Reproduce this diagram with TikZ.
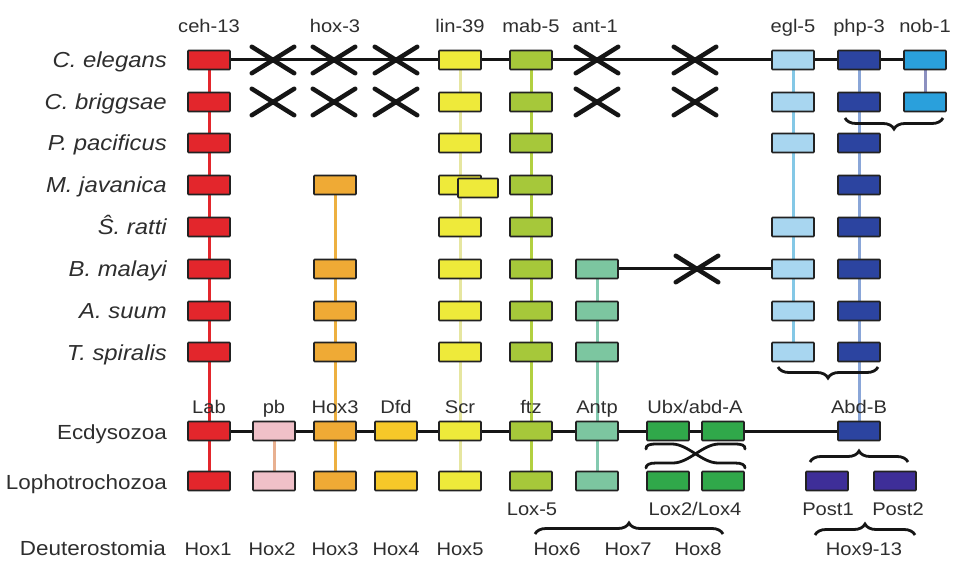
\documentclass[tikz,border=0pt]{standalone}
\usepackage{fontspec}
\setmainfont{Liberation Sans}[FakeStretch=1.1]
\usetikzlibrary{shapes.misc,decorations.pathreplacing}
\pgfdeclarelayer{back}
\pgfdeclarelayer{bg}
\pgfsetlayers{back,bg,main}
\definecolor{cRed}{HTML}{E3262C}
\definecolor{cPink}{HTML}{F0C0C8}
\definecolor{cOra}{HTML}{EFAA35}
\definecolor{cDfd}{HTML}{F6C829}
\definecolor{cYel}{HTML}{EEEA3A}
\definecolor{cFtz}{HTML}{A6C83A}
\definecolor{cAnt}{HTML}{7CC6A0}
\definecolor{cUbx}{HTML}{30A84A}
\definecolor{cEgl}{HTML}{A8D6F0}
\definecolor{cPhp}{HTML}{2C44A0}
\definecolor{cNob}{HTML}{2AA0DC}
\definecolor{cPost}{HTML}{3E2E98}
\definecolor{lPb}{HTML}{E8B090}
\definecolor{lYel}{HTML}{E6E6A0}
\definecolor{lOra}{HTML}{EDB040}
\definecolor{lFtz}{HTML}{B2D040}
\definecolor{lAnt}{HTML}{84CAB0}
\definecolor{lEgl}{HTML}{84C8E6}
\definecolor{lPhp}{HTML}{8AA6D8}
\definecolor{lNob}{HTML}{8C90C0}
\definecolor{boxline}{HTML}{222222}
\definecolor{txt}{HTML}{2E2E2E}
\definecolor{inkc}{HTML}{151515}
\tikzset{
 gbox/.style={draw=boxline, line width=1.6pt, fill=#1, minimum width=42pt, minimum height=19pt, inner sep=0pt, rounded corners=0.8pt},
 xmark/.style={cross out, draw=inkc, line width=4.5pt, line cap=round, minimum width=38pt, minimum height=22pt, inner sep=0pt},
 hline/.style={draw=inkc, line width=3pt},
 vline/.style={draw=#1, line width=3pt},
 sp/.style={anchor=base east, font=\fontsize{21.7}{24}\selectfont\itshape, text=txt, inner sep=0pt},
 grp/.style={anchor=base east, font=\fontsize{20.4}{24}\selectfont, text=txt, inner sep=0pt},
 gl/.style={anchor=base, font=\fontsize{18.3}{22}\selectfont, text=txt, inner sep=0pt},
 brc/.style={decorate, decoration={brace, amplitude=11pt}, line width=2.8pt, draw=inkc},
 xbrc/.style={line width=2.8pt, draw=inkc, line cap=round},
}
\begin{document}
\begin{tikzpicture}[x=1pt,y=-1pt]
\begin{pgfonlayer}{back}
\fill[white] (0,0) rectangle (954,572);
\end{pgfonlayer}
\useasboundingbox (0,0) rectangle (954,572);
% ---------- top gene labels
\node[gl] (tceh) at (209,33) {ceh-13};
\node[gl] (thox) at (335,33) {hox-3};
\node[gl] (tlin) at (460,33) {lin-39};
\node[gl] (tmab) at (531,33) {mab-5};
\node[gl] (tant) at (595,33) {ant-1};
\node[gl] (tegl) at (793,33) {egl-5};
\node[gl] (tphp) at (859,33) {php-3};
\node[gl] (tnob) at (925,33) {nob-1};
% ---------- species labels
\node[sp] (s1) at (167,68) {C. elegans};
\node[sp] (s2) at (167,110) {C. briggsae};
\node[sp] (s3) at (167,151) {P. pacificus};
\node[sp] (s4) at (167,193) {M. javanica};
\node[sp] (s5) at (167,235) {Ŝ. ratti};
\node[sp] (s6) at (167,277) {B. malayi};
\node[sp] (s7) at (167,319) {A. suum};
\node[sp] (s8) at (167,360) {T. spiralis};
% ---------- row 1 C. elegans
\node[gbox=cRed] (r1a) at (209,60) {};
\node[gbox=cYel] (r1e) at (460,60) {};
\node[gbox=cFtz] (r1f) at (531,60) {};
\node[gbox=cEgl] (r1h) at (793,60) {};
\node[gbox=cPhp] (r1i) at (859,60) {};
\node[gbox=cNob] (r1j) at (925,60) {};
\node[xmark] (r1xb) at (273,60) {};
\node[xmark] (r1xc) at (334,60) {};
\node[xmark] (r1xd) at (396,60) {};
\node[xmark] (r1xg) at (597,60) {};
\node[xmark] (r1xu) at (695,60) {};
% ---------- row 2 C. briggsae
\node[gbox=cRed] (r2a) at (209,102) {};
\node[gbox=cYel] (r2e) at (460,102) {};
\node[gbox=cFtz] (r2f) at (531,102) {};
\node[gbox=cEgl] (r2h) at (793,102) {};
\node[gbox=cPhp] (r2i) at (859,102) {};
\node[gbox=cNob] (r2j) at (925,102) {};
\node[xmark] (r2xb) at (273,102) {};
\node[xmark] (r2xc) at (334,102) {};
\node[xmark] (r2xd) at (396,102) {};
\node[xmark] (r2xg) at (597,102) {};
\node[xmark] (r2xu) at (695,102) {};
% ---------- row 3 P. pacificus
\node[gbox=cRed] (r3a) at (209,143) {};
\node[gbox=cYel] (r3e) at (460,143) {};
\node[gbox=cFtz] (r3f) at (531,143) {};
\node[gbox=cEgl] (r3h) at (793,143) {};
\node[gbox=cPhp] (r3i) at (859,143) {};
% ---------- row 4 M. javanica
\node[gbox=cRed] (r4a) at (209,185) {};
\node[gbox=cOra] (r4c) at (335,185) {};
\node[gbox=cYel] (r4e) at (460,185) {};
\node[gbox=cYel, minimum width=40pt] (r4e2) at (478,188) {};
\node[gbox=cFtz] (r4f) at (531,185) {};
\node[gbox=cPhp] (r4i) at (859,185) {};
% ---------- row 5 S. ratti
\node[gbox=cRed] (r5a) at (209,227) {};
\node[gbox=cYel] (r5e) at (460,227) {};
\node[gbox=cFtz] (r5f) at (531,227) {};
\node[gbox=cEgl] (r5h) at (793,227) {};
\node[gbox=cPhp] (r5i) at (859,227) {};
% ---------- row 6 B. malayi
\node[gbox=cRed] (r6a) at (209,269) {};
\node[gbox=cOra] (r6c) at (335,269) {};
\node[gbox=cYel] (r6e) at (460,269) {};
\node[gbox=cFtz] (r6f) at (531,269) {};
\node[gbox=cAnt] (r6g) at (597,269) {};
\node[gbox=cEgl] (r6h) at (793,269) {};
\node[gbox=cPhp] (r6i) at (859,269) {};
\node[xmark] (r6xu) at (697,269) {};
% ---------- row 7 A. suum
\node[gbox=cRed] (r7a) at (209,311) {};
\node[gbox=cOra] (r7c) at (335,311) {};
\node[gbox=cYel] (r7e) at (460,311) {};
\node[gbox=cFtz] (r7f) at (531,311) {};
\node[gbox=cAnt] (r7g) at (597,311) {};
\node[gbox=cEgl] (r7h) at (793,311) {};
\node[gbox=cPhp] (r7i) at (859,311) {};
% ---------- row 8 T. spiralis
\node[gbox=cRed] (r8a) at (209,352) {};
\node[gbox=cOra] (r8c) at (335,352) {};
\node[gbox=cYel] (r8e) at (460,352) {};
\node[gbox=cFtz] (r8f) at (531,352) {};
\node[gbox=cAnt] (r8g) at (597,352) {};
\node[gbox=cEgl] (r8h) at (793,352) {};
\node[gbox=cPhp] (r8i) at (859,352) {};
% ---------- Ecdysozoa
\node[gl] (lLab) at (209,413) {Lab};
\node[gl] (lpb) at (274,413) {pb};
\node[gl] (lHox3) at (335,413) {Hox3};
\node[gl] (lDfd) at (396,413) {Dfd};
\node[gl] (lScr) at (460,413) {Scr};
\node[gl] (lftz) at (531,413) {ftz};
\node[gl] (lAntp) at (597,413) {Antp};
\node[gl] (lUbx) at (695,413) {Ubx/abd-A};
\node[gl] (lAbdB) at (859,413) {Abd-B};
\node[grp] (gEcd) at (167,439) {Ecdysozoa};
\node[gbox=cRed] (ea) at (209,431) {};
\node[gbox=cPink] (eb) at (274,431) {};
\node[gbox=cOra] (ec) at (335,431) {};
\node[gbox=cDfd] (ed) at (396,431) {};
\node[gbox=cYel] (ee) at (460,431) {};
\node[gbox=cFtz] (ef) at (531,431) {};
\node[gbox=cAnt] (eg) at (597,431) {};
\node[gbox=cUbx] (eu1) at (668,431) {};
\node[gbox=cUbx] (eu2) at (723,431) {};
\node[gbox=cPhp] (ei) at (859,431) {};
% ---------- Lophotrochozoa
\node[grp] (gLop) at (167,489) {Lophotrochozoa};
\node[gbox=cRed] (la) at (209,481) {};
\node[gbox=cPink] (lb) at (274,481) {};
\node[gbox=cOra] (lc) at (335,481) {};
\node[gbox=cDfd] (ld) at (396,481) {};
\node[gbox=cYel] (le) at (460,481) {};
\node[gbox=cFtz] (lf) at (531,481) {};
\node[gbox=cAnt] (lg) at (597,481) {};
\node[gbox=cUbx] (lu1) at (668,481) {};
\node[gbox=cUbx] (lu2) at (723,481) {};
\node[gbox=cPost] (lp1) at (827,481) {};
\node[gbox=cPost] (lp2) at (895,481) {};
\node[gl] (lLox5) at (532,515) {Lox-5};
\node[gl] (lLox24) at (695,515) {Lox2/Lox4};
\node[gl] (lPost1) at (828,515) {Post1};
\node[gl] (lPost2) at (898,515) {Post2};
% ---------- Deuterostomia
\node[grp] (gDeu) at (166,555) {Deuterostomia};
\node[gl] (d1) at (208,555) {Hox1};
\node[gl] (d2) at (272,555) {Hox2};
\node[gl] (d3) at (335,555) {Hox3};
\node[gl] (d4) at (396,555) {Hox4};
\node[gl] (d5) at (460,555) {Hox5};
\node[gl] (d6) at (557,555) {Hox6};
\node[gl] (d7) at (628,555) {Hox7};
\node[gl] (d8) at (698,555) {Hox8};
\node[gl] (d9) at (864,555) {Hox9-13};
% ---------- braces
\draw[brc] (943,118) -- (845,118);
\draw[brc] (878,367) -- (778,367);
\draw[brc] (810,462) -- (908,462);
\draw[brc] (535,534) -- (723,534);
\draw[brc] (815,535) -- (915,535);
\draw[xbrc] (646,449) .. controls (646,445) and (649,444) .. (657,444) -- (672,444) .. controls (688,444) and (702,463) .. (718,463) -- (735,463) .. controls (742,463) and (745,465) .. (745,468);
\draw[xbrc] (745,449) .. controls (745,445) and (742,444) .. (734,444) -- (719,444) .. controls (703,444) and (689,463) .. (673,463) -- (656,463) .. controls (649,463) and (646,465) .. (646,468);
% ---------- connectors
\begin{pgfonlayer}{bg}
\draw[vline=cRed] (r1a) -- (la);
\draw[vline=lYel] (r1e) -- (le);
\draw[vline=lFtz] (r1f) -- (lf);
\draw[vline=lOra] (r4c) -- (lc);
\draw[vline=lAnt] (r6g) -- (lg);
\draw[vline=lEgl] (r1h) -- (r8h);
\draw[vline=lPhp] (r1i) -- (ei);
\draw[vline=lNob] (r1j) -- (r2j);
\draw[vline=lPb] (eb) -- (lb);
\draw[hline] (r1a) -- (r1j);
\draw[hline] (r6g) -- (r6h);
\draw[hline] (ea) -- (ei);
\end{pgfonlayer}
\end{tikzpicture}
\end{document}
